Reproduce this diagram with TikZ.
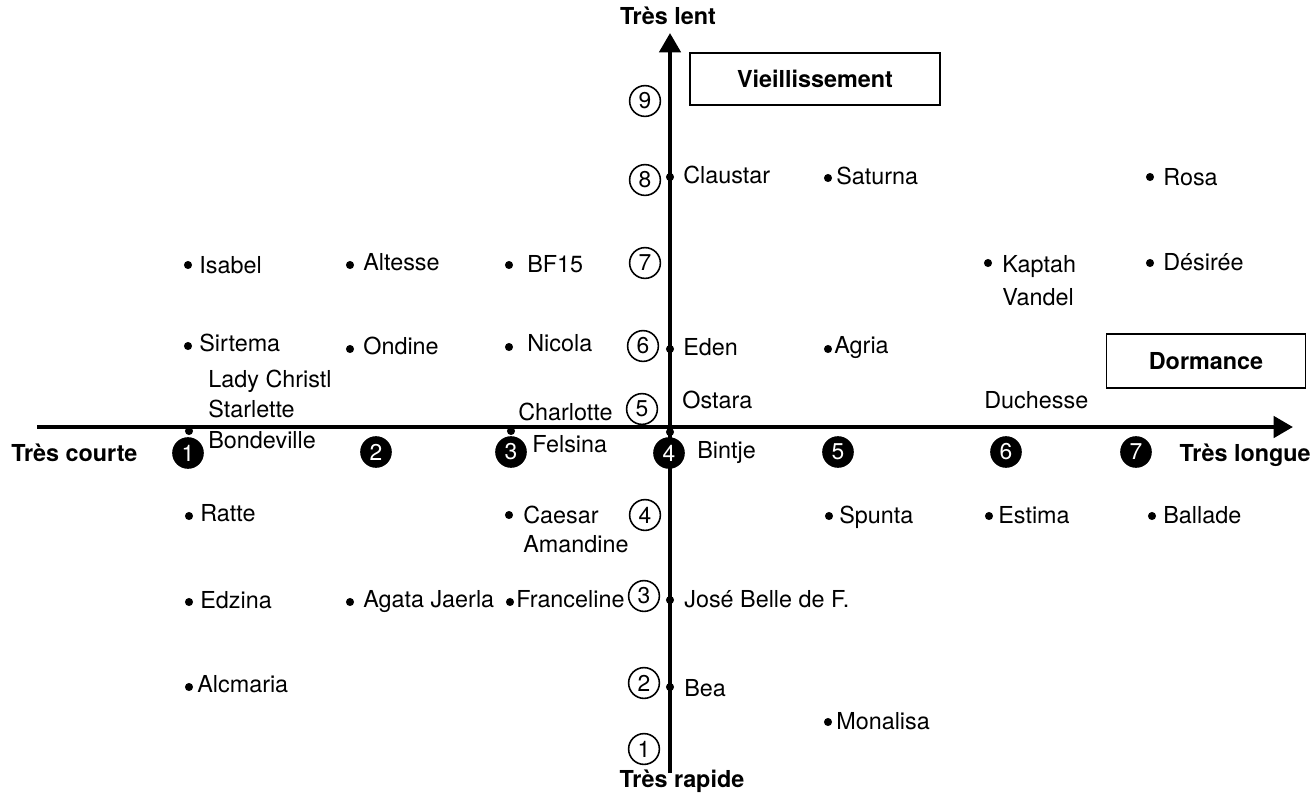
\documentclass[tikz,border=0pt]{standalone}
\usepackage{fontspec}
\setmainfont{TeX Gyre Heros}
\usetikzlibrary{arrows.meta}

\newcommand{\texte}{\fontsize{13.3}{16}\selectfont}
\newcommand{\chiffre}{\fontsize{13}{13}\selectfont}

\begin{document}
\begin{tikzpicture}[x=0.02cm,y=-0.02cm,
    axe/.style={line width=2.4pt,-{Triangle[length=11pt,width=12pt]}},
    puce/.style={circle,fill,inner sep=0pt,minimum size=4.6pt},
    variete/.style={anchor=base west,inner sep=0pt,font=\texte},
    titre/.style={inner sep=0pt,font=\texte\bfseries},
    cadre/.style={draw,line width=0.8pt,font=\texte\bfseries},
    rang/.style={circle,draw,line width=0.9pt,minimum size=17.5pt,inner sep=0pt,font=\chiffre},
    rangnoir/.style={circle,fill,text=white,minimum size=18pt,inner sep=0pt,font=\chiffre}]
        \useasboundingbox (0,0) rectangle (1313,792);

        % axes
        \coordinate (xg) at (37,427);
        \coordinate (xd) at (1293,427);
        \coordinate (yb) at (670,773);
        \coordinate (yh) at (670,33);
        \draw[axe](xg)--(xd);
        \draw[axe](yb)--(yh);

        \node[titre,anchor=base] (lent) at (668,24) {Très lent};
        \node[titre,anchor=base] (rapide) at (682,787) {Très rapide};
        \node[titre,anchor=base west] (courte) at (11,461) {Très courte};
        \node[titre,anchor=base east] (longue) at (1311,461) {Très longue};

        \node[cadre,minimum width=5cm,minimum height=1.04cm] (vieil) at (815,79) {Vieillissement};
        \node[cadre,minimum width=3.98cm,minimum height=1.08cm] (dorm) at (1206,361) {Dormance};

        % rangs
        \foreach \px/\py/\n in {645/101/9,645/180/8,645/263/7,643/346/6,642/409/5,
                645/515/4,644/596/3,644/683/2,644/749/1}
            \node[rang] (v\n) at (\px,\py) {\n};
        \foreach \px/\py/\n in {188/453/1,376/452/2,511/452/3,669/453/4,
                838/452/5,1006/452/6,1136/452/7}
            \node[rangnoir] (d\n) at (\px,\py) {\n};

        % varietes
        \foreach \px/\py/\tx/\ty/\nom [count=\i] in {
                670/177/683/183/Claustar, 828/178/836/184/Saturna, 1150/177/1163/185/Rosa,
                188/265/199/273/Isabel, 350/265/363/270/Altesse, 509/265/527/272/BF15,
                988/263/1002/272/Kaptah, 1150/263/1163/270/Désirée,
                188/346/199/351/Sirtema, 350/349/363/354/Ondine, 509/347/527/351/Nicola,
                670/349/683/355/Eden, 828/349/834/353/Agria,
                189/431/208/448/Bondeville, 511/431/532/452/Felsina, 670/432/697/458/Bintje,
                189/516/200/521/Ratte, 509/515/523/523/Caesar, 829/516/839/523/Spunta,
                989/516/998/523/Estima, 1152/516/1163/523/Ballade,
                189/602/200/608/Edzina, 350/602/363/607/Agata Jaerla,
                510/602/516/607/Franceline, 670/600/684/607/José Belle de F.,
                189/687/197/692/Alcmaria, 670/687/684/696/Bea, 828/722/836/729/Monalisa}
        {
            \node[puce] (p\i) at (\px,\py) {};
            \node[variete] (n\i) at (\tx,\ty) {\nom};
        }
        \foreach \tx/\ty/\nom [count=\i] in {1002/305/Vandel, 208/387/Lady Christl,
                208/417/Starlette, 518/420/Charlotte, 682/408/Ostara,
                984/408/Duchesse, 523/552/Amandine}
            \node[variete] (m\i) at (\tx,\ty) {\nom};
    \end{tikzpicture}
\end{document}
